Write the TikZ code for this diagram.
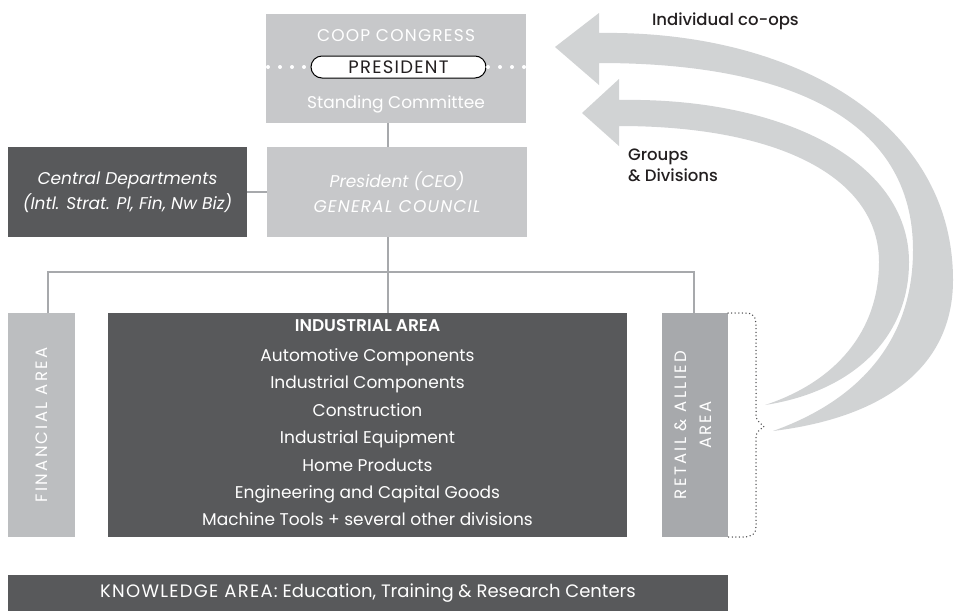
\documentclass[tikz,border=0pt]{standalone}
\usepackage{fontspec}
\setmainfont{Poppins}
\newfontfamily\medfont{Poppins Medium}
\newfontfamily\sbfont{Poppins SemiBold}
\newcommand{\capsp}{\addfontfeatures{LetterSpace=7}}
\definecolor{boxlight}{HTML}{C7C8CA}
\definecolor{finc}{HTML}{BCBEC0}
\definecolor{retc}{HTML}{A7A9AC}
\definecolor{darkc}{HTML}{58595B}
\definecolor{arrowc}{HTML}{D1D3D4}
\definecolor{linec}{HTML}{A7A9AC}
\definecolor{textdark}{HTML}{231F20}
\definecolor{dotc}{HTML}{4D4D4F}
\begin{document}
\begin{tikzpicture}[x=1pt,y=-1pt,
  every node/.style={inner sep=0pt, outer sep=0pt},
  basefont/.style={font=\fontsize{17}{24}\selectfont},
  wtext/.style={basefont, text=white},
  lightbox/.style={rectangle, fill=boxlight, anchor=north west, wtext, align=center},
  finbox/.style={rectangle, fill=finc, anchor=north west},
  retbox/.style={rectangle, fill=retc, anchor=north west},
  darkbox/.style={rectangle, fill=darkc, anchor=north west, wtext, align=center},
  pill/.style={rectangle, draw=black, fill=white, line width=1pt, rounded corners=11pt,
    minimum width=175pt, minimum height=22pt, text=textdark, font=\fontsize{18}{24}\selectfont\capsp},
  rottext/.style={text=white, rotate=90, align=center,
    font=\fontsize{16.5}{25}\selectfont\addfontfeatures{LetterSpace=14}},
  conn/.style={draw=linec, line width=1.4pt},
  whitedots/.style={draw=white, line width=4pt, line cap=round, dash pattern=on 0pt off 12pt},
  bracedots/.style={draw=dotc, line width=1.5pt, line cap=round, dash pattern=on 0pt off 3.6pt},
  labeltext/.style={text=textdark, font=\fontsize{16.5}{21}\medfont},
]
\useasboundingbox (0,0) rectangle (956,611);

% curved arrows
\fill[arrowc] (555,47) -- (599,13) -- (599,33)
  .. controls (790,30) and (953,120) .. (953,280)
  .. controls (953,370) and (880,418) .. (773,431)
  .. controls (860,400) and (913,340) .. (913,250)
  .. controls (913,120) and (790,63) .. (599,63)
  -- (599,85) -- cycle;
\fill[arrowc] (582,113) -- (619,79) -- (619,100)
  .. controls (780,97) and (909,160) .. (909,262)
  .. controls (909,340) and (850,392) .. (765,405)
  .. controls (835,382) and (879,332) .. (879,262)
  .. controls (879,178) and (780,126) .. (619,126)
  -- (619,146) -- cycle;

% boxes
\node[lightbox, minimum width=260pt, minimum height=109pt] (congress) at (266,14) {};
\node[wtext, anchor=base, font=\fontsize{17}{24}\selectfont\capsp] (congresslbl) at (396,41) {COOP CONGRESS};
\node[pill] (pres) at (398.5,67) {PRESIDENT};
\node[wtext, anchor=base] (standing) at (396,108) {Standing Committee};
\draw[whitedots] (congress.west |- pres.west) ++(2,0) coordinate (dl) (dl) -- ([xshift=-6pt]pres.west);
\draw[whitedots] ([xshift=2pt]pres.east) -- ([xshift=-1pt]congress.east |- pres.east);

\node[lightbox, minimum width=260pt, minimum height=90pt, font=\fontsize{17}{25}\selectfont\itshape] (gc) at (267,147) {President (CEO)\\{\capsp GENERAL COUNCIL}};
\node[darkbox, minimum width=239pt, minimum height=90pt, font=\fontsize{17}{25}\selectfont\itshape] (central) at (8,147) {Central Departments\\(Intl. Strat. Pl, Fin, Nw Biz)};

\node[finbox, minimum width=67pt, minimum height=224pt] (fin) at (8,313) {};
\node[rottext] (finlbl) at (fin.center) {FINANCIAL AREA};

\node[darkbox, minimum width=519pt, minimum height=224pt] (ind) at (108,313) {};
\node[wtext, anchor=north, align=center, font=\fontsize{17}{27.4}\selectfont] (indlbl) at (367.5,319)
  {{\sbfont INDUSTRIAL AREA}\\[3pt]Automotive Components\\Industrial Components\\Construction\\Industrial Equipment\\Home Products\\Engineering and Capital Goods\\Machine Tools + several other divisions};

\node[retbox, minimum width=66pt, minimum height=224pt] (retail) at (662,313) {};
\node[rottext] (retlbl) at ([xshift=-2pt]retail.center) {RETAIL \& ALLIED\\AREA};

\node[darkbox, minimum width=720pt, minimum height=36pt, font=\fontsize{18}{24}\selectfont] (know) at (8,575) {{\capsp KNOWLEDGE AREA:} Education, Training \& Research Centers};

% connectors
\coordinate (spine) at (388,0);
\coordinate (finx) at (48,0);
\coordinate (retx) at (694,0);
\coordinate (bar) at (0,272);
\draw[conn] (congress.south -| spine) -- (gc.north -| spine);
\draw[conn] (central.east) -- (gc.west);
\draw[conn] (gc.south -| spine) -- (bar -| spine);
\draw[conn] (fin.north -| finx) -- (finx |- bar) -- (retx |- bar) -- (retail.north -| retx);
\draw[conn] (bar -| spine) -- (ind.north -| spine);

% dotted brace
\draw[bracedots] (retail.north east) -- (745,313) .. controls (753,313) and (756,316) .. (756,326)
  -- (756,416) .. controls (756,421) and (762,424) .. (764,427)
  .. controls (760,429) and (756,432) .. (756,438)
  -- (756,526) .. controls (756,534) and (752,537) .. (743,537) -- (retail.south east);

% labels
\node[labeltext, anchor=base west] (indiv) at (652,25) {Individual co-ops};
\node[labeltext, anchor=north west, align=left] (groups) at (628,149) {Groups\\\& Divisions};
\end{tikzpicture}
\end{document}
